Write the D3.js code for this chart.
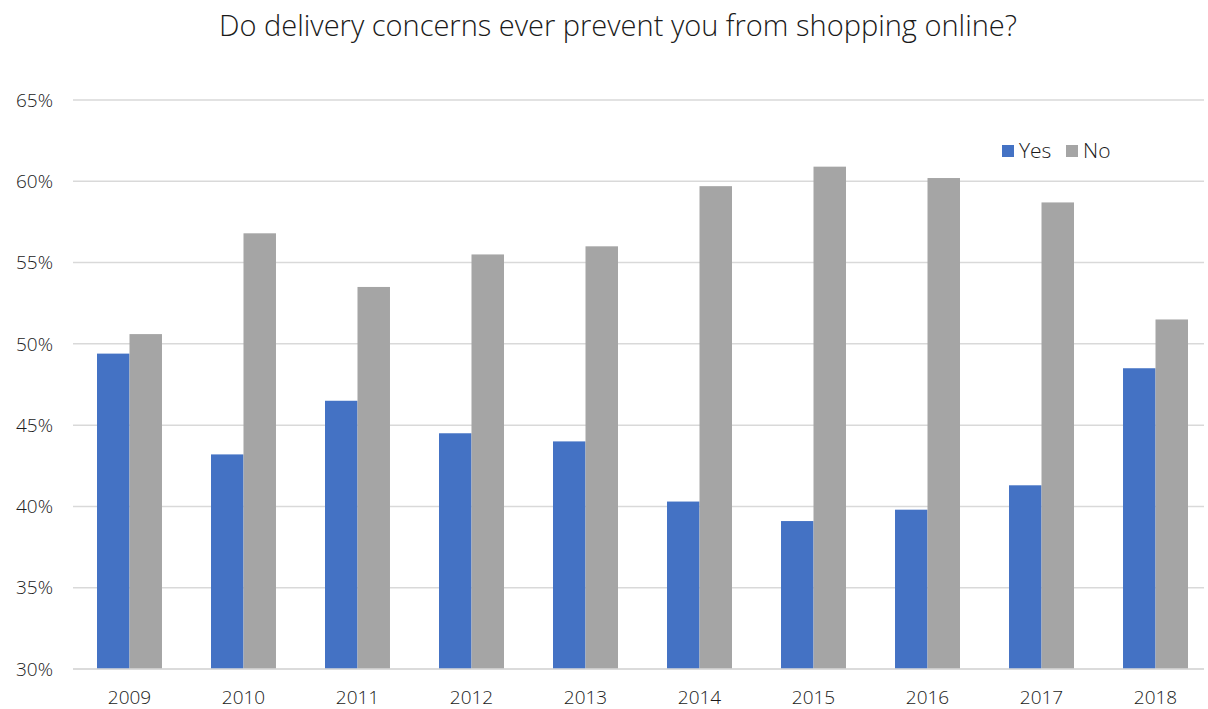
<!DOCTYPE html>
<html>
<head>
<meta charset="utf-8">
<script src="https://cdn.jsdelivr.net/npm/d3@7"></script>
<style>
  body { margin: 0; background: white; }
  text { font-family: "Open Sans", "Noto Sans", sans-serif; fill: #1a1a1a; font-weight: 300; }
</style>
</head>
<body>
<div id="container"></div>
<script>
const years = ['2009','2010','2011','2012','2013','2014','2015','2016','2017','2018'];
const yes = [49.4, 43.2, 46.5, 44.5, 44.0, 40.3, 39.1, 39.8, 41.3, 48.5];
const no  = [50.6, 56.8, 53.5, 55.5, 56.0, 59.7, 60.9, 60.2, 58.7, 51.5];
const series = ['Yes', 'No'];
const colors = ['#4472c4', '#a5a5a5'];
const yTicks = [30, 35, 40, 45, 50, 55, 60, 65];

let w = 1208, h = 709;

let viz = d3.select('#container')
  .append('svg')
    .attr('width', w)
    .attr('height', h)
    .style('background', 'white');

let x = d3.scaleBand().domain(years).range([97, 1188]).paddingInner(0.43).paddingOuter(0);
let xs = d3.scaleBand().domain(series).range([0, x.bandwidth()]);
let y = d3.scaleLinear().domain([30, 65]).range([669, 100]);

// gridlines
viz.append('g')
  .selectAll('line')
  .data(yTicks)
  .enter().append('line')
    .attr('x1', 73).attr('x2', 1204)
    .attr('y1', d => y(d)).attr('y2', d => y(d))
    .attr('stroke', '#d9d9d9')
    .attr('stroke-width', 1.5);

// y labels
viz.append('g')
  .selectAll('text')
  .data(yTicks)
  .enter().append('text')
    .attr('x', 53)
    .attr('y', d => y(d))
    .attr('dy', '0.35em')
    .attr('text-anchor', 'end')
    .attr('font-size', 19)
    .text(d => d + '%');

// bars
let groups = viz.append('g')
  .selectAll('g')
  .data(years.map((yr, i) => ({ yr: yr, vals: [yes[i], no[i]] })))
  .enter().append('g')
    .attr('transform', d => 'translate(' + x(d.yr) + ',0)');

groups.selectAll('rect')
  .data(d => d.vals.map((v, j) => ({ s: series[j], v: v, c: colors[j] })))
  .enter().append('rect')
    .attr('x', d => xs(d.s))
    .attr('width', xs.bandwidth())
    .attr('y', d => y(d.v))
    .attr('height', d => y(30) - y(d.v))
    .attr('fill', d => d.c);

// baseline
viz.append('line')
  .attr('x1', 73).attr('x2', 1204)
  .attr('y1', y(30)).attr('y2', y(30))
  .attr('stroke', '#d9d9d9')
  .attr('stroke-width', 1.5);

// x labels
viz.append('g')
  .selectAll('text')
  .data(years)
  .enter().append('text')
    .attr('x', d => x(d) + x.bandwidth() / 2)
    .attr('y', 704)
    .attr('text-anchor', 'middle')
    .attr('font-size', 19)
    .text(d => d);

// title
viz.append('text')
  .attr('x', 618)
  .attr('y', 36)
  .attr('text-anchor', 'middle')
  .attr('font-size', 29)
  .text('Do delivery concerns ever prevent you from shopping online?');

// legend
let legend = viz.append('g');
let lx = [1002, 1066];
series.forEach((s, i) => {
  legend.append('rect')
    .attr('x', lx[i]).attr('y', 145)
    .attr('width', 12).attr('height', 12)
    .attr('fill', colors[i]);
  legend.append('text')
    .attr('x', lx[i] + 17).attr('y', 151)
    .attr('dy', '0.35em')
    .attr('font-size', 21)
    .text(s);
});
</script>
</body>
</html>
